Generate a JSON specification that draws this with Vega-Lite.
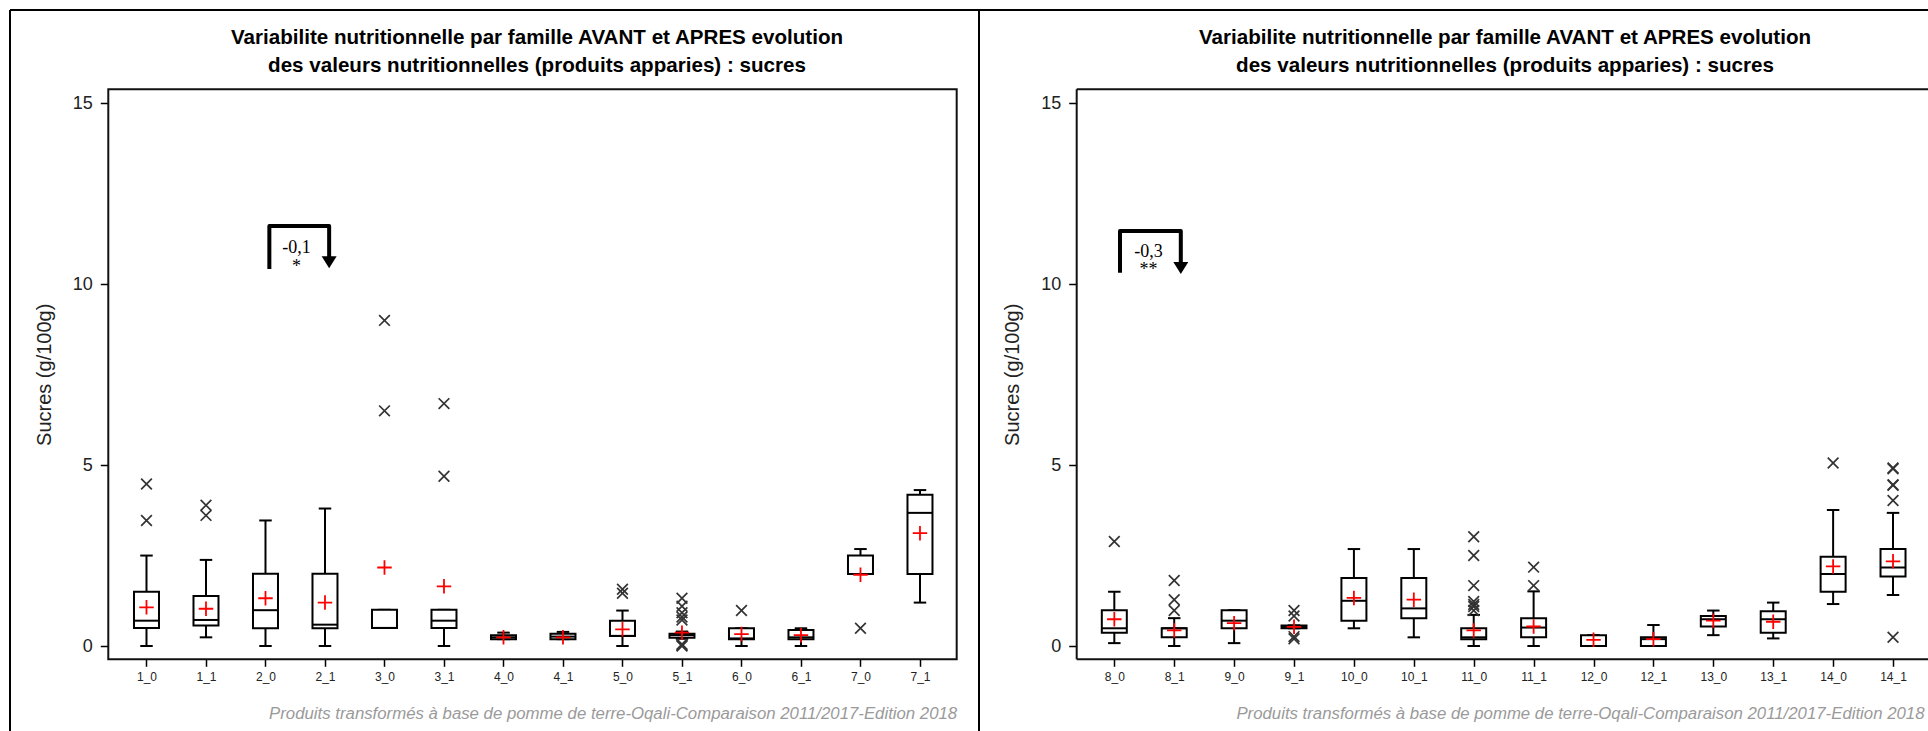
{
  "$schema": "https://vega.github.io/schema/vega-lite/v6.json",
  "padding": {"left": 9, "top": 9, "right": 0, "bottom": 0},
  "config": {"view": {"stroke": null}, "font": "Liberation Sans", "concat": {"spacing": 0}},
  "spacing": 0,
  "bounds": "flush",
  "datasets": {
    "boxes1": [
      {"pos": 1, "cat": "1_0", "lo": 0, "q1": 0.5, "med": 0.7, "q3": 1.5, "hi": 2.5, "mean": 1.07},
      {"pos": 2, "cat": "1_1", "lo": 0.24, "q1": 0.57, "med": 0.72, "q3": 1.38, "hi": 2.38, "mean": 1.03},
      {"pos": 3, "cat": "2_0", "lo": 0, "q1": 0.49, "med": 0.99, "q3": 2.0, "hi": 3.47, "mean": 1.32},
      {"pos": 4, "cat": "2_1", "lo": 0, "q1": 0.49, "med": 0.59, "q3": 2.0, "hi": 3.8, "mean": 1.2},
      {"pos": 5, "cat": "3_0", "lo": 0.5, "q1": 0.5, "med": 0.5, "q3": 1.0, "hi": 1.0, "mean": 2.17},
      {"pos": 6, "cat": "3_1", "lo": 0, "q1": 0.5, "med": 0.7, "q3": 1.0, "hi": 1.0, "mean": 1.65},
      {"pos": 7, "cat": "4_0", "lo": 0.19, "q1": 0.19, "med": 0.24, "q3": 0.3, "hi": 0.37, "mean": 0.24},
      {"pos": 8, "cat": "4_1", "lo": 0.19, "q1": 0.19, "med": 0.26, "q3": 0.34, "hi": 0.39, "mean": 0.24},
      {"pos": 9, "cat": "5_0", "lo": 0, "q1": 0.28, "med": 0.28, "q3": 0.7, "hi": 0.98, "mean": 0.46},
      {"pos": 10, "cat": "5_1", "lo": 0.2, "q1": 0.23, "med": 0.3, "q3": 0.34, "hi": 0.4, "mean": 0.37},
      {"pos": 11, "cat": "6_0", "lo": 0, "q1": 0.19, "med": 0.21, "q3": 0.49, "hi": 0.49, "mean": 0.33},
      {"pos": 12, "cat": "6_1", "lo": 0, "q1": 0.19, "med": 0.24, "q3": 0.44, "hi": 0.49, "mean": 0.3},
      {"pos": 13, "cat": "7_0", "lo": 1.99, "q1": 1.99, "med": 1.99, "q3": 2.5, "hi": 2.68, "mean": 1.97},
      {"pos": 14, "cat": "7_1", "lo": 1.2, "q1": 1.99, "med": 3.68, "q3": 4.18, "hi": 4.31, "mean": 3.12}
    ],
    "out1": [
      {"pos": 1, "v": 4.48}, {"pos": 1, "v": 3.47},
      {"pos": 2, "v": 3.89}, {"pos": 2, "v": 3.61},
      {"pos": 5, "v": 9.0}, {"pos": 5, "v": 6.5},
      {"pos": 6, "v": 6.7}, {"pos": 6, "v": 4.69},
      {"pos": 9, "v": 1.57}, {"pos": 9, "v": 1.46},
      {"pos": 10, "v": 1.32}, {"pos": 10, "v": 1.1}, {"pos": 10, "v": 0.92}, {"pos": 10, "v": 0.8}, {"pos": 10, "v": 0.72}, {"pos": 10, "v": 0.05}, {"pos": 10, "v": 0.0}, {"pos": 10, "v": 0.02},
      {"pos": 11, "v": 0.98},
      {"pos": 13, "v": 0.49}
    ],
    "boxes2": [
      {"pos": 1, "cat": "8_0", "lo": 0.08, "q1": 0.37, "med": 0.49, "q3": 0.99, "hi": 1.5, "mean": 0.74},
      {"pos": 2, "cat": "8_1", "lo": 0, "q1": 0.24, "med": 0.49, "q3": 0.49, "hi": 0.77, "mean": 0.43},
      {"pos": 3, "cat": "9_0", "lo": 0.08, "q1": 0.49, "med": 0.7, "q3": 0.99, "hi": 0.99, "mean": 0.63},
      {"pos": 4, "cat": "9_1", "lo": 0.49, "q1": 0.49, "med": 0.53, "q3": 0.57, "hi": 0.57, "mean": 0.53},
      {"pos": 5, "cat": "10_0", "lo": 0.49, "q1": 0.7, "med": 1.25, "q3": 1.88, "hi": 2.68, "mean": 1.33},
      {"pos": 6, "cat": "10_1", "lo": 0.24, "q1": 0.77, "med": 1.04, "q3": 1.88, "hi": 2.68, "mean": 1.28},
      {"pos": 7, "cat": "11_0", "lo": 0, "q1": 0.19, "med": 0.24, "q3": 0.49, "hi": 0.86, "mean": 0.43},
      {"pos": 8, "cat": "11_1", "lo": 0, "q1": 0.24, "med": 0.51, "q3": 0.77, "hi": 1.51, "mean": 0.54},
      {"pos": 9, "cat": "12_0", "lo": 0, "q1": 0, "med": 0, "q3": 0.3, "hi": 0.3, "mean": 0.17},
      {"pos": 10, "cat": "12_1", "lo": 0, "q1": 0, "med": 0.19, "q3": 0.24, "hi": 0.58, "mean": 0.19},
      {"pos": 11, "cat": "13_0", "lo": 0.3, "q1": 0.54, "med": 0.74, "q3": 0.83, "hi": 0.98, "mean": 0.7},
      {"pos": 12, "cat": "13_1", "lo": 0.21, "q1": 0.37, "med": 0.74, "q3": 0.96, "hi": 1.2, "mean": 0.67},
      {"pos": 13, "cat": "14_0", "lo": 1.16, "q1": 1.5, "med": 1.99, "q3": 2.47, "hi": 3.76, "mean": 2.2},
      {"pos": 14, "cat": "14_1", "lo": 1.41, "q1": 1.92, "med": 2.17, "q3": 2.68, "hi": 3.68, "mean": 2.34}
    ],
    "out2": [
      {"pos": 1, "v": 2.89},
      {"pos": 2, "v": 1.81}, {"pos": 2, "v": 1.28}, {"pos": 2, "v": 0.98},
      {"pos": 4, "v": 0.98}, {"pos": 4, "v": 0.83}, {"pos": 4, "v": 0.26}, {"pos": 4, "v": 0.2},
      {"pos": 7, "v": 3.02}, {"pos": 7, "v": 2.5}, {"pos": 7, "v": 1.67}, {"pos": 7, "v": 1.23}, {"pos": 7, "v": 1.15}, {"pos": 7, "v": 1.09}, {"pos": 7, "v": 0.98},
      {"pos": 8, "v": 2.18}, {"pos": 8, "v": 1.67},
      {"pos": 13, "v": 5.06},
      {"pos": 14, "v": 4.92}, {"pos": 14, "v": 4.9}, {"pos": 14, "v": 4.46}, {"pos": 14, "v": 4.44}, {"pos": 14, "v": 4.02}, {"pos": 14, "v": 0.24}
    ],
    "br1": [
      {"x": 3.065, "y": 10.42, "o": 1}, {"x": 3.065, "y": 11.61, "o": 2}, {"x": 4.07, "y": 11.61, "o": 3}, {"x": 4.07, "y": 10.7, "o": 4}
    ],
    "arr1": [{"x": 4.07, "y": 10.605}],
    "txt1": [{"x": 3.52, "y": 11.0, "label": "-0,1"}, {"x": 3.52, "y": 10.48, "label": "*"}],
    "br2": [
      {"x": 1.095, "y": 10.32, "o": 1}, {"x": 1.095, "y": 11.47, "o": 2}, {"x": 2.11, "y": 11.47, "o": 3}, {"x": 2.11, "y": 10.55, "o": 4}
    ],
    "arr2": [{"x": 2.11, "y": 10.45}],
    "txt2": [{"x": 1.57, "y": 10.88, "label": "-0,3"}, {"x": 1.57, "y": 10.38, "label": "**"}]
  },
  "hconcat": [
    {
      "width": 969,
      "height": 721,
      "title": {
        "text": ["Variabilite nutritionnelle par famille AVANT et APRES evolution", "des valeurs nutritionnelles (produits apparies) : sucres"],
        "font": "Liberation Sans", "fontSize": 20.6, "fontWeight": "bold", "color": "#000000",
        "anchor": "middle", "frame": "group", "baseline": "top", "offset": 0, "dy": 68, "dx": 42.5, "lineHeight": 28.5
      },
      "layer": [
        {
          "data": {"name": "boxes1"},
          "mark": {"type": "rule", "color": "#000000", "strokeWidth": 2},
          "encoding": {
            "x": {
              "field": "pos", "type": "quantitative",
              "scale": {"domain": [-1.294, 14.992], "nice": false, "zero": false, "padding": 0},
              "axis": {
                "values": [1, 2, 3, 4, 5, 6, 7, 8, 9, 10, 11, 12, 13, 14],
                "labelExpr": "['1_0','1_1','2_0','2_1','3_0','3_1','4_0','4_1','5_0','5_1','6_0','6_1','7_0','7_1'][datum.value-1]",
                "offset": -71.7, "domain": false, "grid": false,
                "tickSize": 7, "tickWidth": 1.5, "tickColor": "#000000",
                "labelPadding": 5, "labelFontSize": 12, "labelFont": "Liberation Sans", "labelColor": "#222222",
                "labelFlush": false, "labelOverlap": false, "labelAngle": 0,
                "title": "Produits transformés à base de pomme de terre-Oqali-Comparaison 2011/2017-Edition 2018",
                "titleFont": "Liberation Sans", "titleFontSize": 16.8, "titleFontStyle": "italic", "titleFontWeight": "normal",
                "titleColor": "#9a9a9a", "titleAnchor": "end", "titleAlign": "right", "titleX": 946.7, "titleY": 53.7, "titleBaseline": "middle"
              }
            },
            "y": {
              "field": "lo", "type": "quantitative",
              "scale": {"domain": [-2.349, 17.579], "nice": false, "zero": false, "padding": 0},
              "axis": {
                "values": [0, 5, 10, 15],
                "offset": -98.3, "domain": false, "grid": false,
                "tickSize": 8, "tickWidth": 1.5, "tickColor": "#000000",
                "labelPadding": 8, "labelFontSize": 18, "labelFont": "Liberation Sans", "labelColor": "#222222", "labelFlush": false,
                "title": "Sucres (g/100g)", "titleFont": "Liberation Sans", "titleFontSize": 20, "titleFontWeight": "normal", "titleColor": "#222222",
                "titleX": -64, "titleY": 364.3, "titleAngle": -90, "titleAlign": "center", "titleBaseline": "middle"
              }
            },
            "y2": {"field": "hi"}
          }
        },
        {
          "data": {"values": [{}]},
          "mark": {"type": "rule", "color": "#000000", "strokeWidth": 2},
          "encoding": {
            "x": {"datum": -1.294, "type": "quantitative"},
            "y": {"datum": -2.349, "type": "quantitative"},
            "y2": {"datum": 17.579}
          }
        },
        {
          "data": {"values": [{}]},
          "mark": {"type": "rule", "color": "#000000", "strokeWidth": 2},
          "encoding": {
            "x": {"datum": -1.294, "type": "quantitative"},
            "x2": {"datum": 14.992},
            "y": {"datum": 17.579, "type": "quantitative"}
          }
        },
        {
          "data": {"values": [{}]},
          "mark": {"type": "rule", "color": "#000000", "strokeWidth": 2},
          "encoding": {
            "x": {"datum": 14.992, "type": "quantitative"},
            "y": {"datum": -2.349, "type": "quantitative"},
            "y2": {"datum": 17.579}
          }
        },
        {
          "data": {"values": [{}]},
          "mark": {"type": "rect", "filled": false, "color": "#111111", "strokeWidth": 2},
          "encoding": {
            "x": {"datum": 0.358, "type": "quantitative"},
            "x2": {"datum": 14.617},
            "y": {"datum": -0.368, "type": "quantitative"},
            "y2": {"datum": 15.387}
          }
        },
        {
          "data": {"name": "boxes1"},
          "mark": {"type": "point", "shape": "M-1,0L1,0", "size": 156, "filled": false, "color": "#000000", "strokeWidth": 2, "opacity": 1},
          "encoding": {"x": {"field": "pos", "type": "quantitative"}, "y": {"field": "lo", "type": "quantitative"}}
        },
        {
          "data": {"name": "boxes1"},
          "mark": {"type": "point", "shape": "M-1,0L1,0", "size": 156, "filled": false, "color": "#000000", "strokeWidth": 2, "opacity": 1},
          "encoding": {"x": {"field": "pos", "type": "quantitative"}, "y": {"field": "hi", "type": "quantitative"}}
        },
        {
          "data": {"name": "boxes1"},
          "mark": {"type": "bar", "orient": "vertical", "size": 25, "fill": "#ffffff", "stroke": "#000000", "strokeWidth": 2},
          "encoding": {"x": {"field": "pos", "type": "quantitative"}, "y": {"field": "q1", "type": "quantitative"}, "y2": {"field": "q3"}}
        },
        {
          "data": {"name": "boxes1"},
          "mark": {"type": "point", "shape": "M-1,0L1,0", "size": 625, "filled": false, "color": "#000000", "strokeWidth": 2, "opacity": 1},
          "encoding": {"x": {"field": "pos", "type": "quantitative"}, "y": {"field": "med", "type": "quantitative"}}
        },
        {
          "data": {"name": "boxes1"},
          "mark": {"type": "point", "shape": "M-1,0L1,0M0,-1L0,1", "size": 210, "filled": false, "color": "#ff0000", "strokeWidth": 1.8, "opacity": 1},
          "encoding": {"x": {"field": "pos", "type": "quantitative"}, "y": {"field": "mean", "type": "quantitative"}}
        },
        {
          "data": {"name": "out1"},
          "mark": {"type": "point", "shape": "M-1,-1L1,1M-1,1L1,-1", "size": 115, "filled": false, "color": "#333333", "strokeWidth": 1.7, "opacity": 1},
          "encoding": {"x": {"field": "pos", "type": "quantitative"}, "y": {"field": "v", "type": "quantitative"}}
        },
        {
          "data": {"name": "br1"},
          "mark": {"type": "line", "color": "#000000", "strokeWidth": 4, "strokeJoin": "round"},
          "encoding": {"x": {"field": "x", "type": "quantitative"}, "y": {"field": "y", "type": "quantitative"}, "order": {"field": "o"}}
        },
        {
          "data": {"name": "arr1"},
          "mark": {"type": "point", "shape": "M-1,-0.8L1,-0.8L0,0.8Z", "size": 225, "filled": true, "color": "#000000", "opacity": 1},
          "encoding": {"x": {"field": "x", "type": "quantitative"}, "y": {"field": "y", "type": "quantitative"}}
        },
        {
          "data": {"name": "txt1"},
          "mark": {"type": "text", "font": "Liberation Serif", "fontSize": 18, "color": "#000000", "align": "center", "baseline": "middle"},
          "encoding": {"x": {"field": "x", "type": "quantitative"}, "y": {"field": "y", "type": "quantitative"}, "text": {"field": "label"}}
        }
      ]
    },
    {
      "width": 949,
      "height": 721,
      "title": {
        "text": ["Variabilite nutritionnelle par famille AVANT et APRES evolution", "des valeurs nutritionnelles (produits apparies) : sucres"],
        "font": "Liberation Sans", "fontSize": 20.6, "fontWeight": "bold", "color": "#000000",
        "anchor": "middle", "frame": "group", "baseline": "top", "offset": 0, "dy": 68, "dx": 51.5, "lineHeight": 28.5
      },
      "layer": [
        {
          "data": {"name": "boxes2"},
          "mark": {"type": "rule", "color": "#000000", "strokeWidth": 2},
          "encoding": {
            "x": {
              "field": "pos", "type": "quantitative",
              "scale": {"domain": [-1.259, 14.584], "nice": false, "zero": false, "padding": 0},
              "axis": {
                "values": [1, 2, 3, 4, 5, 6, 7, 8, 9, 10, 11, 12, 13, 14],
                "labelExpr": "['8_0','8_1','9_0','9_1','10_0','10_1','11_0','11_1','12_0','12_1','13_0','13_1','14_0','14_1'][datum.value-1]",
                "offset": -71.7, "domain": false, "grid": false,
                "tickSize": 7, "tickWidth": 1.5, "tickColor": "#000000",
                "labelPadding": 5, "labelFontSize": 12, "labelFont": "Liberation Sans", "labelColor": "#222222",
                "labelFlush": false, "labelOverlap": false, "labelAngle": 0,
                "title": "Produits transformés à base de pomme de terre-Oqali-Comparaison 2011/2017-Edition 2018",
                "titleFont": "Liberation Sans", "titleFontSize": 16.8, "titleFontStyle": "italic", "titleFontWeight": "normal",
                "titleColor": "#9a9a9a", "titleAnchor": "end", "titleAlign": "right", "titleX": 945, "titleY": 53.7, "titleBaseline": "middle"
              }
            },
            "y": {
              "field": "lo", "type": "quantitative",
              "scale": {"domain": [-2.349, 17.579], "nice": false, "zero": false, "padding": 0},
              "axis": {
                "values": [0, 5, 10, 15],
                "offset": -97.7, "domain": false, "grid": false,
                "tickSize": 8, "tickWidth": 1.5, "tickColor": "#000000",
                "labelPadding": 8, "labelFontSize": 18, "labelFont": "Liberation Sans", "labelColor": "#222222", "labelFlush": false,
                "title": "Sucres (g/100g)", "titleFont": "Liberation Sans", "titleFontSize": 20, "titleFontWeight": "normal", "titleColor": "#222222",
                "titleX": -64.4, "titleY": 364.3, "titleAngle": -90, "titleAlign": "center", "titleBaseline": "middle"
              }
            },
            "y2": {"field": "hi"}
          }
        },
        {
          "data": {"values": [{}]},
          "mark": {"type": "rule", "color": "#000000", "strokeWidth": 2},
          "encoding": {
            "x": {"datum": -1.259, "type": "quantitative"},
            "x2": {"datum": 14.584},
            "y": {"datum": 17.579, "type": "quantitative"}
          }
        },
        {
          "data": {"values": [{}]},
          "mark": {"type": "rule", "color": "#111111", "strokeWidth": 2},
          "encoding": {
            "x": {"datum": 0.372, "type": "quantitative"},
            "x2": {"datum": 14.584},
            "y": {"datum": 15.387, "type": "quantitative"}
          }
        },
        {
          "data": {"values": [{}]},
          "mark": {"type": "rule", "color": "#111111", "strokeWidth": 2},
          "encoding": {
            "x": {"datum": 0.372, "type": "quantitative"},
            "x2": {"datum": 14.584},
            "y": {"datum": -0.368, "type": "quantitative"}
          }
        },
        {
          "data": {"values": [{}]},
          "mark": {"type": "rule", "color": "#111111", "strokeWidth": 2},
          "encoding": {
            "x": {"datum": 0.372, "type": "quantitative"},
            "y": {"datum": -0.368, "type": "quantitative"},
            "y2": {"datum": 15.387}
          }
        },
        {
          "data": {"name": "boxes2"},
          "mark": {"type": "point", "shape": "M-1,0L1,0", "size": 156, "filled": false, "color": "#000000", "strokeWidth": 2, "opacity": 1},
          "encoding": {"x": {"field": "pos", "type": "quantitative"}, "y": {"field": "lo", "type": "quantitative"}}
        },
        {
          "data": {"name": "boxes2"},
          "mark": {"type": "point", "shape": "M-1,0L1,0", "size": 156, "filled": false, "color": "#000000", "strokeWidth": 2, "opacity": 1},
          "encoding": {"x": {"field": "pos", "type": "quantitative"}, "y": {"field": "hi", "type": "quantitative"}}
        },
        {
          "data": {"name": "boxes2"},
          "mark": {"type": "bar", "orient": "vertical", "size": 25, "fill": "#ffffff", "stroke": "#000000", "strokeWidth": 2},
          "encoding": {"x": {"field": "pos", "type": "quantitative"}, "y": {"field": "q1", "type": "quantitative"}, "y2": {"field": "q3"}}
        },
        {
          "data": {"name": "boxes2"},
          "mark": {"type": "point", "shape": "M-1,0L1,0", "size": 625, "filled": false, "color": "#000000", "strokeWidth": 2, "opacity": 1},
          "encoding": {"x": {"field": "pos", "type": "quantitative"}, "y": {"field": "med", "type": "quantitative"}}
        },
        {
          "data": {"name": "boxes2"},
          "mark": {"type": "point", "shape": "M-1,0L1,0M0,-1L0,1", "size": 210, "filled": false, "color": "#ff0000", "strokeWidth": 1.8, "opacity": 1},
          "encoding": {"x": {"field": "pos", "type": "quantitative"}, "y": {"field": "mean", "type": "quantitative"}}
        },
        {
          "data": {"name": "out2"},
          "mark": {"type": "point", "shape": "M-1,-1L1,1M-1,1L1,-1", "size": 115, "filled": false, "color": "#333333", "strokeWidth": 1.7, "opacity": 1},
          "encoding": {"x": {"field": "pos", "type": "quantitative"}, "y": {"field": "v", "type": "quantitative"}}
        },
        {
          "data": {"name": "br2"},
          "mark": {"type": "line", "color": "#000000", "strokeWidth": 4, "strokeJoin": "round"},
          "encoding": {"x": {"field": "x", "type": "quantitative"}, "y": {"field": "y", "type": "quantitative"}, "order": {"field": "o"}}
        },
        {
          "data": {"name": "arr2"},
          "mark": {"type": "point", "shape": "M-1,-0.8L1,-0.8L0,0.8Z", "size": 225, "filled": true, "color": "#000000", "opacity": 1},
          "encoding": {"x": {"field": "x", "type": "quantitative"}, "y": {"field": "y", "type": "quantitative"}}
        },
        {
          "data": {"name": "txt2"},
          "mark": {"type": "text", "font": "Liberation Serif", "fontSize": 18, "color": "#000000", "align": "center", "baseline": "middle"},
          "encoding": {"x": {"field": "x", "type": "quantitative"}, "y": {"field": "y", "type": "quantitative"}, "text": {"field": "label"}}
        }
      ]
    }
  ]
}
